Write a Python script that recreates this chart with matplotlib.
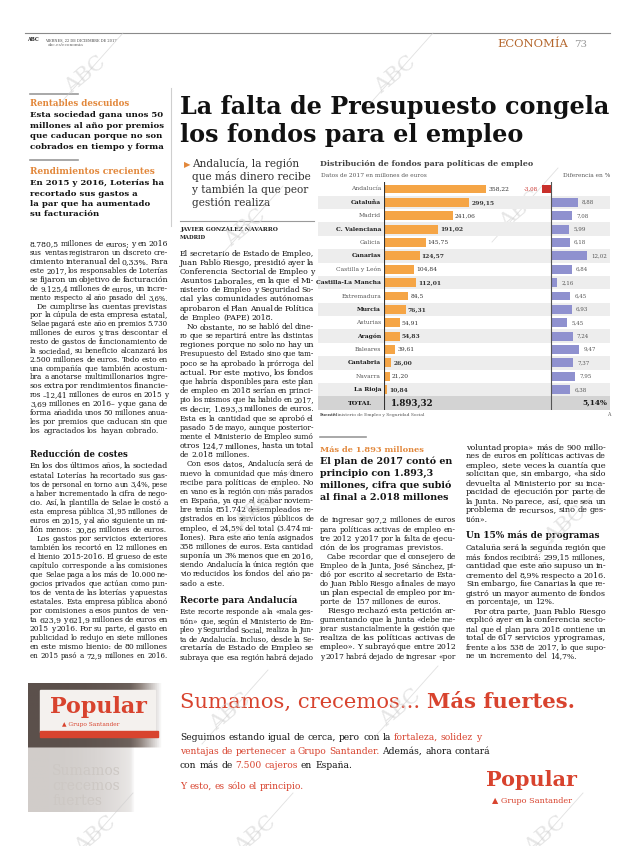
import numpy as np
import matplotlib
matplotlib.use('Agg')
import matplotlib.pyplot as plt
from matplotlib.font_manager import FontProperties
from matplotlib.colors import LinearSegmentedColormap

SERIF = 'DejaVu Serif'
INK = '#161616'
ORANGE = '#e2873a'
BARC = '#f5a546'
LILAC = '#8f91cf'
RED = '#c9302b'
ADRED = '#d8432e'

# --- chart data ---
regions = ['Andalucía', 'Cataluña', 'Madrid', 'C. Valenciana', 'Galicia', 'Canarias',
           'Castilla y León', 'Castilla-La Mancha', 'Extremadura', 'Murcia', 'Asturias',
           'Aragón', 'Baleares', 'Cantabria', 'Navarra', 'La Rioja']
fondos = [358.22, 299.15, 241.06, 191.02, 145.75, 124.57, 104.84, 112.01, 84.5, 76.31,
          54.91, 54.83, 39.61, 26.00, 21.20, 10.84]
fondos_txt = ['358,22', '299,15', '241,06', '191,02', '145,75', '124,57', '104,84', '112,01',
              '84,5', '76,31', '54,91', '54,83', '39,61', '26,00', '21,20', '10,84']
diferencia = [-3.08, 8.88, 7.08, 5.99, 6.18, 12.02, 6.84, 2.16, 6.45, 6.93, 5.45, 7.24,
              9.47, 7.37, 7.95, 6.38]
diferencia_txt = ['-3,08', '8,88', '7,08', '5,99', '6,18', '12,02', '6,84', '2,16', '6,45',
                  '6,93', '5,45', '7,24', '9,47', '7,37', '7,95', '6,38']
destacadas = [False, True, False, True, False, True, False, True,
              False, True, False, True, False, True, False, True]
total_fondos = '1.893,32'
total_dif = '5,14%'

# --- article text ---
left_a = [
    '8.780,5 millones de euros; y en 2016',
    'sus ventas registraron un discreto cre-',
    'cimiento interanual del 0,33%. Para',
    'este 2017, los responsables de Loterías',
    'se fijaron un objetivo de facturación',
    'de 9.125,4 millones de euros, un incre-',
    'mento respecto al año pasado del 3,6%.',
    ' De cumplirse las cuentas previstas',
    'por la cúpula de esta empresa estatal,',
    'Selae pagará este año en premios 5.730',
    'millones de euros y, tras descontar el',
    'resto de gastos de funcionamiento de',
    'la sociedad, su beneficio alcanzará los',
    '2.500 millones de euros. Todo esto en',
    'una compañía que también acostum-',
    'bra a anotarse multimillonarios ingre-',
    'sos extra por rendimientos financie-',
    'ros –12,41 millones de euros en 2015 y',
    '3,69 millones en 2016– y que gana de',
    'forma añadida unos 50 millones anua-',
    'les por premios que caducan sin que',
    'los agraciados los hayan cobrado.',
]
left_b = [
    'En los dos últimos años, la sociedad',
    'estatal Loterías ha recortado sus gas-',
    'tos de personal en torno a un 3,4%, pese',
    'a haber incrementado la cifra de nego-',
    'cio. Así, la plantilla de Selae le costó a',
    'esta empresa pública 31,95 millones de',
    'euros en 2015, y al año siguiente un mi-',
    'llón menos: 30,86 millones de euros.',
    ' Los gastos por servicios exteriores',
    'también los recortó en 12 millones en',
    'el bienio 2015-2016. El grueso de este',
    'capítulo corresponde a las comisiones',
    'que Selae paga a los más de 10.000 ne-',
    'gocios privados que actúan como pun-',
    'tos de venta de las loterías y apuestas',
    'estatales. Esta empresa pública abonó',
    'por comisiones a esos puntos de ven-',
    'ta 623,9 y 621,9 millones de euros en',
    '2015 y 2016. Por su parte, el gasto en',
    'publicidad lo redujo en siete millones',
    'en este mismo bienio: de 80 millones',
    'en 2015 pasó a 72,9 millones en 2016.',
]
mid_a = [
    'El secretario de Estado de Empleo,',
    'Juan Pablo Riesgo, presidió ayer la',
    'Conferencia Sectorial de Empleo y',
    'Asuntos Laborales, en la que el Mi-',
    'nisterio de Empleo y Seguridad So-',
    'cial y las comunidades autónomas',
    'aprobaron el Plan Anual de Política',
    'de Empleo (PAPE) 2018.',
    ' No obstante, no se habló del dine-',
    'ro que se repartirá entre las distintas',
    'regiones porque no solo no hay un',
    'Presupuesto del Estado sino que tam-',
    'poco se ha aprobado la prórroga del',
    'actual. Por este motivo, los fondos',
    'que habría disponibles para este plan',
    'de empleo en 2018 serían en princi-',
    'pio los mismos que ha habido en 2017,',
    'es decir, 1.893,3 millones de euros.',
    'Esta es la cantidad que se aprobó el',
    'pasado 5 de mayo, aunque posterior-',
    'mente el Ministerio de Empleo sumó',
    'otros 124,7 millones, hasta un total',
    'de 2.018 millones.',
    ' Con esos datos, Andalucía será de',
    'nuevo la comunidad que más dinero',
    'recibe para políticas de empleo. No',
    'en vano es la región con más parados',
    'en España, ya que al acabar noviem-',
    'bre tenía 851.742 desempleados re-',
    'gistrados en los servicios públicos de',
    'empleo, el 24,5% del total (3.474 mi-',
    'llones). Para este año tenía asignados',
    '358 millones de euros. Esta cantidad',
    'suponía un 3% menos que en 2016,',
    'siendo Andalucía la única región que',
    'vio reducidos los fondos del año pa-',
    'sado a este.',
]
mid_b = [
    'Este recorte responde a la «mala ges-',
    'tión» que, según el Ministerio de Em-',
    'pleo y Seguridad Social, realiza la Jun-',
    'ta de Andalucía. Incluso, desde la Se-',
    'cretaría de Estado de Empleo se',
    'subraya que esa región habrá dejado',
]
right_a = [
    'de ingresar 907,2 millones de euros',
    'para políticas activas de empleo en-',
    'tre 2012 y 2017 por la falta de ejecu-',
    'ción de los programas previstos.',
    ' Cabe recordar que el consejero de',
    'Empleo de la Junta, José Sánchez, pi-',
    'dió por escrito al secretario de Esta-',
    'do Juan Pablo Riesgo a finales de mayo',
    'un plan especial de empleo por im-',
    'porte de 157 millones de euros.',
    ' Riesgo rechazó esta petición ar-',
    'gumentando que la Junta «debe me-',
    'jorar sustancialmente la gestión que',
    'realiza de las políticas activas de',
    'empleo». Y subrayó que entre 2012',
    'y 2017 habrá dejado de ingresar «por',
]
right_b = [
    'voluntad propia» más de 900 millo-',
    'nes de euros en políticas activas de',
    'empleo, siete veces la cuantía que',
    'solicitan que, sin embargo, «ha sido',
    'devuelta al Ministerio por su inca-',
    'pacidad de ejecución por parte de',
    'la Junta. No parece, así, que sea un',
    'problema de recursos, sino de ges-',
    'tión».',
]
right_c = [
    'Cataluña será la segunda región que',
    'más fondos recibirá: 299,15 millones,',
    'cantidad que este año supuso un in-',
    'cremento del 8,9% respecto a 2016.',
    'Sin embargo, fue Canarias la que re-',
    'gistró un mayor aumento de fondos',
    'en porcentaje, un 12%.',
    ' Por otra parte, Juan Pablo Riesgo',
    'explicó ayer en la conferencia secto-',
    'rial que el plan para 2018 contiene un',
    'total de 617 servicios y programas,',
    'frente a los 538 de 2017, lo que supo-',
    'ne un incremento del 14,7%.',
]

fig = plt.figure(figsize=(6.2, 8.46), dpi=100)
page = fig.add_axes([0, 0, 1, 1])
page.set_xlim(0, 620)
page.set_ylim(846, 0)
page.set_autoscale_on(False)
page.axis('off')
rend = fig.canvas.get_renderer()

_cache = {}


def width_of(s, size, weight='normal', family=SERIF):
    key = (s, size, weight, family)
    if key not in _cache:
        fp = FontProperties(family=family, size=size, weight=weight)
        _cache[key] = rend.get_text_width_height_descent(s, fp, ismath=False)[0]
    return _cache[key]


def space_of(size, weight='normal'):
    return width_of('n n', size, weight) - width_of('nn', size, weight)


def fit(s, x, y, w, weight='bold', color=INK, ha='left', size=None, family=SERIF):
    if size is None:
        size = 10 * w / width_of(s, 10, weight, family)
    page.text(x, y, s, size=size, weight=weight, color=color, ha=ha, va='baseline',
              family=family)
    return size


def put_words(items, x, y, size, fill=None):
    # items: (word, color, weight)
    widths = [width_of(t, size, wt) for t, c, wt in items]
    gap = space_of(size)
    if fill is not None and len(items) > 1:
        gap = max((fill - sum(widths)) / (len(items) - 1), gap * 0.3)
    xx = x
    for (t, c, wt), wd in zip(items, widths):
        page.text(xx, y, t, size=size, color=c, weight=wt, family=SERIF, va='baseline')
        xx += wd + gap


def line_size(ln, w, k=0.6):
    # size at which the words fill w with gaps of k spaces
    words = ln.split()
    need = sum(width_of(t, 10) for t in words) + (len(words) - 1) * k * space_of(10)
    return 10 * w / need


def column(lines, x, y, w, step, size, full_last=False):
    for i, ln in enumerate(lines):
        nxt = lines[i + 1] if i + 1 < len(lines) else None
        ends = (nxt is None and not full_last) or (nxt is not None and nxt.startswith(' '))
        x0 = x + 7 if ln.startswith(' ') else x
        words = [(t, INK, 'normal') for t in ln.split()]
        if ends:
            s = min(size, line_size(ln, x + w - x0, 1.0))
            put_words(words, x0, y + i * step, s)
        else:
            s = float(np.clip(line_size(ln, x + w - x0), 0.88 * size, 1.14 * size))
            put_words(words, x0, y + i * step, s, x + w - x0)


ratios = []
for lines, w in [(left_a, 138), (left_b, 138), (mid_a, 134), (mid_b, 134),
                 (right_a, 136), (right_b, 140), (right_c, 140)]:
    for ln in lines:
        ratios.append(line_size(ln, w - 7 * ln.startswith(' ')))
BODY = np.median(ratios)

# --- header ---
page.plot([25, 610], [33, 33], color='#8a8a8a', lw=0.8)
fit('ABC', 27, 41, 12, weight='bold')
fit('VIERNES, 22 DE DICIEMBRE DE 2017', 45, 41, 73, weight='normal', color='#444')
fit('abc.es/economia', 48, 46, 36, weight='normal', color='#666')
fit('ECONOMÍA', 497, 47, 70, weight='normal', color='#b4662c')
fit('73', 574, 47, 13, weight='normal', color='#9a9a9a')

# --- left sidebar ---
page.plot([30, 78], [94, 94], color='#9a9a9a', lw=1.2)
fit('Rentables descuidos', 30, 106, 100, color=ORANGE)
sb = 10 * 133 / width_of('millones al año por premios', 10, 'bold')
for i, t in enumerate(['Esta sociedad gana unos 50', 'millones al año por premios',
                       'que caducan porque no son', 'cobrados en tiempo y forma']):
    fit(t, 30, 117 + i * 10.7, 0, size=sb, color='#151515')
page.plot([30, 78], [160, 160], color='#9a9a9a', lw=1.2)
fit('Rendimientos crecientes', 30, 174, 125, color=ORANGE)
for i, t in enumerate(['En 2015 y 2016, Loterías ha', 'recortado sus gastos a',
                       'la par que ha aumentado', 'su facturación']):
    fit(t, 30, 185 + i * 10.5, 0, size=sb, color='#151515')
page.plot([171, 171], [88, 226], color='#cfcfcf', lw=0.8)

# --- headline ---
hs = fit('La falta de Presupuesto congela', 180, 114, 430, color='#111')
fit('los fondos para el empleo', 180, 142, 0, size=hs, color='#111')

# subhead
page.text(184, 167, '▶', size=6, color=ORANGE, family='DejaVu Sans', va='baseline')
ss = 10 * 120 / width_of('que más dinero recibe', 10, 'normal')
for i, t in enumerate(['Andalucía, la región', 'que más dinero recibe',
                       'y también la que peor', 'gestión realiza']):
    fit(t, 192, 167 + i * 13, 0, size=ss, weight='normal', color='#333')
page.plot([180, 314], [221, 221], color='#9a9a9a', lw=0.8)
fit('JAVIER GONZÁLEZ NAVARRO', 180, 231, 98, color='#222')
fit('MADRID', 180, 239, 26, color='#222')

# --- body columns ---
column(left_a, 30, 246.5, 138, 8.86, BODY, full_last=False)
fit('Reducción de costes', 30, 457, 98, color='#151515')
column(left_b, 30, 468.5, 138, 9.03, BODY)
column(mid_a, 180, 255.5, 134, 9.17, BODY)
fit('Recorte para Andalucía', 180, 603, 118, color='#151515')
column(mid_b, 180, 614.5, 134, 9.0, BODY, full_last=True)
column(right_a, 320, 522.5, 136, 9.07, BODY, full_last=True)
column(right_b, 466, 449.5, 140, 9.0, BODY)
fit('Un 15% más de programas', 466, 538, 133, color='#151515')
column(right_c, 466, 550.5, 140, 9.0, BODY)

# right sidebar
page.plot([320, 366], [437, 437], color='#9a9a9a', lw=1.2)
fit('Más de 1.893 millones', 320, 452, 105, color=ORANGE)
rs = 10 * 132 / width_of('millones, cifra que subió', 10, 'bold')
for i, t in enumerate(['El plan de 2017 contó en', 'principio con 1.893,3',
                       'millones, cifra que subió', 'al final a 2.018 millones']):
    fit(t, 320, 464 + i * 12, 0, size=rs, color='#151515')

# --- chart ---
fit('Distribución de fondos para políticas de empleo', 320, 166, 212, color='#444')
cs = fit('Datos de 2017 en millones de euros', 321, 177, 108, weight='normal', color='#555')
fit('Diferencia en %', 610, 177, 0, size=cs, weight='normal', color='#555', ha='right')


def px_axes(x0, y0, x1, y1):
    return fig.add_axes([x0 / 620, 1 - y1 / 846, (x1 - x0) / 620, (y1 - y0) / 846])


rows = np.arange(len(regions))
n = len(regions) + 1
top, bottom = 182.3, 409.7

ax_bg = px_axes(318, top, 610, bottom)
ax_bg.set_xlim(318, 610)
ax_bg.set_ylim(n - 0.5, -0.5)
ax_bg.axis('off')
for i, b in enumerate(destacadas):
    if b:
        ax_bg.axhspan(i - 0.5, i + 0.5, color='#ededed', lw=0)
ax_bg.axhspan(n - 1.5, n - 0.5, color='#d3d3d3', lw=0)
for i, (r, b) in enumerate(zip(regions, destacadas)):
    ax_bg.text(381, i, r, ha='right', va='center', size=4.3, family=SERIF,
               weight='bold' if b else 'normal', color='#1a1a1a' if b else '#555')
ax_bg.text(372, n - 1, 'TOTAL', ha='right', va='center', size=4.6, family=SERIF,
           weight='bold', color='#1a1a1a')
ax_bg.text(391, n - 1, total_fondos, ha='left', va='center', size=6.3, family=SERIF,
           weight='bold', color='#1a1a1a')
ax_bg.text(607, n - 1, total_dif, ha='right', va='center', size=5.3, family=SERIF,
           weight='bold', color='#1a1a1a')

ax_f = px_axes(384, top, 545, bottom)
ax_f.set_xlim(0, 161 / 0.285)
ax_f.set_ylim(n - 0.5, -0.5)
ax_f.axis('off')
ax_f.barh(rows, fondos, height=0.66, color=BARC, lw=0)
ax_f.axvline(0, color='#333', lw=0.8)
for i, (v, t, b) in enumerate(zip(fondos, fondos_txt, destacadas)):
    ax_f.annotate(t, (v, i), xytext=(1.5, 0), textcoords='offset points', va='center',
                  size=4.3, family=SERIF, weight='bold' if b else 'normal', color='#333')

ax_d = px_axes(520, top, 610, bottom)
ax_d.set_xlim(-31 / 3, 59 / 3)
ax_d.set_ylim(n - 0.5, -0.5)
ax_d.axis('off')
ax_d.barh(rows, diferencia, height=0.66, lw=0,
          color=[RED if d < 0 else LILAC for d in diferencia])
ax_d.axvline(0, color='#555', lw=0.8)
for i, (d, t) in enumerate(zip(diferencia, diferencia_txt)):
    if d < 0:
        ax_d.annotate(t, (d, i), xytext=(-3, 0), textcoords='offset points', va='center',
                      ha='right', size=4.0, family=SERIF, color=RED)
    else:
        ax_d.annotate(t, (d, i), xytext=(3, 0), textcoords='offset points', va='center',
                      ha='left', size=4.0, family=SERIF, color='#555')

page.text(320, 416, 'Fuente:', size=3.2, weight='bold', family=SERIF, color='#444',
          va='baseline')
page.text(333, 416, 'Ministerio de Empleo y Seguridad Social', size=3.2, family=SERIF,
          color='#555', va='baseline')
page.text(610, 416, 'A', size=3.4, family=SERIF, color='#555', va='baseline', ha='right')

# --- advert ---
ramp = LinearSegmentedColormap.from_list('photo', ['#3b302c', '#8c807a', '#ffffff'])
gy = np.linspace(0, 1, 130)[:, None]
gx = np.linspace(0, 1, 70)[None, :]
shade = np.where(gy < 0.5, 0.2, 0.8) + 0.25 * gx ** 3 + 0.6 * np.clip(gx - 0.75, 0, 1) * 4
page.imshow(np.clip(shade, 0, 1), extent=(28, 165, 812, 683), cmap=ramp, vmin=0, vmax=1,
            aspect='auto', zorder=0)
page.add_patch(plt.Rectangle((40, 690), 115, 42, color='#f4f1ee', zorder=1))
page.add_patch(plt.Rectangle((40, 731), 118, 6, color=ADRED, zorder=1))
page.text(50, 713, 'Popular', size=16, weight='bold', family=SERIF, color=ADRED,
          va='baseline', zorder=2)
page.text(62, 726, '▲ Grupo Santander', size=4.2, family=SERIF, color=ADRED,
          va='baseline', zorder=2)
for i, t in enumerate(['Sumamos', 'crecemos', 'fuertes']):
    page.text(52, 775 + i * 15, t, size=10, family=SERIF, color='#cdc8c4',
              va='baseline', zorder=2)

head = [('Sumamos, crecemos...', ADRED, 'normal'), ('Más fuertes.', ADRED, 'bold')]
hsz = 10 * 395 / (width_of('Sumamos, crecemos...', 10) + width_of('Más fuertes.', 10, 'bold')
                  + space_of(10))
put_words(head, 180, 708, hsz)

ad_lines = [
    [('Seguimos estando igual de cerca, pero con la', INK), ('fortaleza, solidez y', ADRED)],
    [('ventajas de pertenecer a Grupo Santander.', ADRED), ('Además, ahora contará', INK)],
    [('con más de', INK), ('7.500 cajeros', ADRED), ('en España.', INK)],
]
asz = 10 * 310 / width_of('ventajas de pertenecer a Grupo Santander. Además, ahora contará', 10)
for i, parts in enumerate(ad_lines):
    items = [(w, c, 'normal') for s, c in parts for w in s.split()]
    put_words(items, 180, 740 + i * 14, asz)
put_words([(w, ADRED, 'normal') for w in 'Y esto, es sólo el principio.'.split()],
          180, 789, asz)
fit('Popular', 486, 786, 91, color=ADRED)
fit('▲ Grupo Santander', 492, 803, 80, weight='normal', color=ADRED)

# --- watermarks ---
for wx, wy in [(85, 75), (395, 75), (245, 228), (520, 210), (255, 510),
               (565, 525), (95, 835), (255, 835), (545, 835), (230, 712), (400, 708)]:
    page.text(wx, wy, 'ABC', size=15, rotation=40, color='#d6d6d6', family=SERIF,
              ha='center', va='center', alpha=0.6, zorder=5)
    page.plot([wx - 28, wx + 38], [wy + 32, wy - 42], color='#cccccc', lw=0.6,
              alpha=0.6, zorder=5)

page.set_xlim(0, 620)
page.set_ylim(846, 0)
fig.savefig('out.png', dpi=100)
